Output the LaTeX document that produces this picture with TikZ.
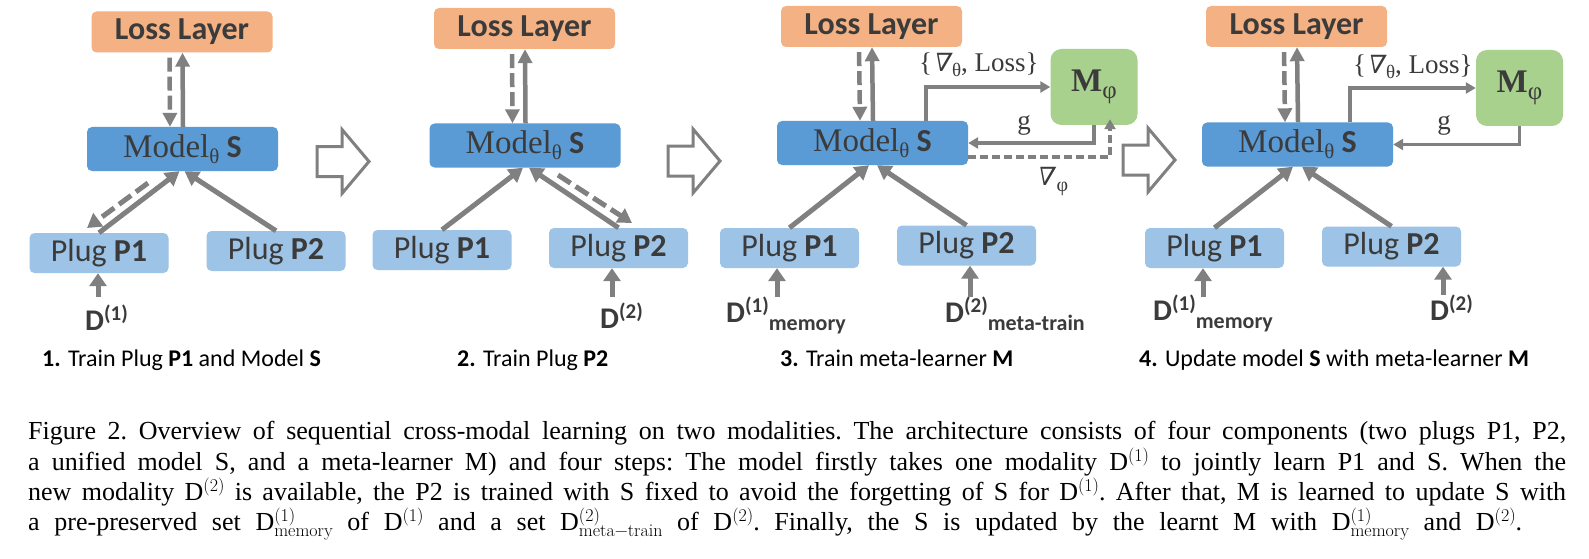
\documentclass[tikz,border=0pt]{standalone}
\usepackage{fontspec}
\setmainfont{Carlito}
\newfontfamily\serif{Liberation Serif}
\newfontfamily\nab[FakeSlant=0.2]{DejaVu Serif}
\newfontfamily\lmr{Latin Modern Roman}
\usetikzlibrary{arrows.meta,calc}
\definecolor{arrgray}{HTML}{808080}
\definecolor{lossc}{HTML}{F4B183}
\definecolor{modelc}{HTML}{5B9BD5}
\definecolor{plugc}{HTML}{9DC3E6}
\definecolor{metac}{HTML}{A9D18E}
\definecolor{txt}{HTML}{3B3B3B}
\newcommand\fs[1]{\fontsize{#1}{#1}\selectfont}
\newcommand\dsup[1]{\raisebox{10pt}{\fs{21}#1}}
\newcommand\dsub[1]{\raisebox{-8pt}{\fs{22}#1}}
\newcommand\csup[1]{\raisebox{9pt}{\lmr\fs{18}#1}}
\newcommand\csupsub[2]{\rlap{\raisebox{9pt}{\lmr\fs{18}#1}}\raisebox{-6pt}{\lmr\fs{18}#2}}
\newcommand\modeltxt{{\serif\fs{33}Model\raisebox{-6pt}{\fs{21}θ}} \textbf{S}}
\newcommand\metatxt{{\serif\bfseries M}\raisebox{-7pt}{\serif\fs{25}φ}}
\newcommand\gradtxt{\{\kern0.5pt{\nab\fs{25}∇}\kern2pt\raisebox{-5pt}{\fs{19}θ}, Loss\}}
\tikzset{
  box/.style={rounded corners=5pt, inner sep=0pt, text=txt, draw=none},
  lossbox/.style={box, fill=lossc, minimum width=181pt, minimum height=41pt, font=\bfseries\fs{32}},
  modelbox/.style={box, fill=modelc, minimum width=191pt, minimum height=44pt, font=\fs{32}},
  plugbox/.style={box, fill=plugc, minimum width=139pt, minimum height=40pt, font=\fs{32}},
  metabox/.style={box, fill=metac, rounded corners=11pt, minimum width=87pt, minimum height=76pt, font=\fs{33}},
  mainarr/.style={draw=arrgray, line width=5pt, -{Triangle[width=16pt,length=14pt]}},
  lossarr/.style={draw=arrgray, line width=4.5pt, -{Triangle[width=14pt,length=14pt]}},
  dasharr/.style={lossarr, dash pattern=on 14pt off 5pt},
  diagdash/.style={mainarr, dash pattern=on 15pt off 6pt},
  darr/.style={draw=arrgray, line width=5pt, -{Triangle[width=17pt,length=13pt]}},
  thinarr/.style={draw=arrgray, line width=3.3pt, -{Triangle[width=11pt,length=10pt]}},
  thindash/.style={thinarr, dash pattern=on 8pt off 4pt},
  blockst/.style={draw=arrgray, line width=3pt, fill=white, line join=miter},
  dlab/.style={inner sep=0pt, text=txt, font=\bfseries\fs{30}},
  serlab/.style={inner sep=0pt, text=txt, font=\serif\fs{27}},
  pcap/.style={inner sep=0pt, text=black, font=\fs{24}},
  figcap/.style={inner sep=0pt, text=black, font=\serif\fs{26}\frenchspacing, anchor=base west},
  blockarr/.pic={\draw[blockst] (0,-15) -- (25,-15) -- (25,-32) -- (52,0) -- (25,32) -- (25,15) -- (0,15) -- cycle;}
}
\begin{document}
\begin{tikzpicture}[x=1pt,y=-1pt]
\useasboundingbox (0,0) rectangle (1589,559);
\fill[white] (0,0) rectangle (1589,559);

% ---------- Panel 1 ----------
\node[lossbox] (L1) at (182,32) {Loss Layer};
\node[modelbox] (M1) at (182.5,149) {\modeltxt};
\node[plugbox] (P1a) at (99,253) {Plug \textbf{P1}};
\node[plugbox] (P2a) at (276,251) {Plug \textbf{P2}};
\draw[dasharr, shorten <=5pt] ([xshift=-12.5pt]L1.south) -- ([xshift=-12.5pt]M1.north);
\draw[lossarr] ([xshift=0.5pt]M1.north) -- ([xshift=0.5pt]L1.south);
\draw[mainarr] (P1a.north) -- ([xshift=-3pt]M1.south);
\draw[mainarr] (P2a.north) -- ([xshift=2pt]M1.south);
\coordinate (ds1) at (148,183);
\coordinate (de1) at (87,228);
\draw[diagdash] (ds1) -- (de1);
\node[dlab, anchor=base west] (D1a) at (85,330) {D\dsup{(1)}};
\coordinate (da1) at (98,297);
\draw[darr] (da1) -- (da1 |- P1a.south);
\node[pcap, anchor=base west] (c1) at (42,366) {\textbf{1.} Train Plug \textbf{P1} and Model \textbf{S}};
\pic at (317,161.5) {blockarr};

% ---------- Panel 2 ----------
\node[lossbox] (L2) at (524.5,28.5) {Loss Layer};
\node[modelbox] (M2) at (525,145.5) {\modeltxt};
\node[plugbox] (P1b) at (442,250) {Plug \textbf{P1}};
\node[plugbox] (P2b) at (618.5,248) {Plug \textbf{P2}};
\draw[dasharr, shorten <=5pt] ([xshift=-12.5pt]L2.south) -- ([xshift=-12.5pt]M2.north);
\draw[lossarr] ([xshift=0.5pt]M2.north) -- ([xshift=0.5pt]L2.south);
\draw[mainarr] (P1b.north) -- ([xshift=-2pt]M2.south);
\draw[mainarr] (P2b.north) -- ([xshift=4pt]M2.south);
\coordinate (ds2) at (558,175);
\coordinate (de2) at (632,223);
\draw[diagdash] (ds2) -- (de2);
\node[dlab, anchor=base west] (D2b) at (600,328) {D\dsup{(2)}};
\coordinate (da2) at (612,297);
\draw[darr] (da2) -- (da2 |- P2b.south);
\node[pcap, anchor=base west] (c2) at (457,366) {\textbf{2.} Train Plug \textbf{P2}};
\pic at (668,161) {blockarr};

% ---------- Panel 3 ----------
\node[lossbox] (L3) at (871.5,26.5) {Loss Layer};
\node[modelbox] (M3) at (872.5,143) {\modeltxt};
\node[plugbox] (P1c) at (789.5,248) {Plug \textbf{P1}};
\node[plugbox] (P2c) at (966.5,245.5) {Plug \textbf{P2}};
\node[metabox] (Mphi3) at (1094,87) {\metatxt};
\draw[dasharr, shorten <=5pt] ([xshift=-12.5pt]L3.south) -- ([xshift=-12.5pt]M3.north);
\draw[lossarr] ([xshift=0.5pt]M3.north) -- ([xshift=0.5pt]L3.south);
\draw[mainarr] (P1c.north) -- ([xshift=-3.5pt]M3.south);
\draw[mainarr] (P2c.north) -- ([xshift=4.5pt]M3.south);
\draw[thinarr] ([xshift=53.5pt]M3.north) |- (Mphi3.west);
\draw[thinarr] (Mphi3.south) |- (M3.east);
\draw[thindash] ([yshift=-14pt]M3.east) -| ([xshift=16pt,yshift=6pt]Mphi3.south);
\node[serlab, anchor=base west] (gl3) at (919,72) {\gradtxt};
\node[serlab, anchor=base] (g3) at (1024,130) {g};
\node[serlab, anchor=base west] (np3) at (1036,185) {{\nab\fs{25}∇}\kern3pt\raisebox{-6pt}{\fs{20}φ}};
\node[dlab, anchor=base west] (D1c) at (726,322) {D\dsup{(1)}\dsub{memory}};
\node[dlab, anchor=base west] (D2c) at (945,322) {D\dsup{(2)}\dsub{meta-train}};
\coordinate (da3) at (777,297);
\coordinate (db3) at (970,297);
\draw[darr] (da3) -- (da3 |- P1c.south);
\draw[darr] (db3) -- (db3 |- P2c.south);
\node[pcap, anchor=base west] (c3) at (780,366) {\textbf{3.} Train meta-learner \textbf{M}};
\pic at (1123,160) {blockarr};

% ---------- Panel 4 ----------
\node[lossbox] (L4) at (1296.5,26.5) {Loss Layer};
\node[modelbox] (M4) at (1297.5,144.5) {\modeltxt};
\node[plugbox] (P1d) at (1214.5,248) {Plug \textbf{P1}};
\node[plugbox] (P2d) at (1391.5,246.5) {Plug \textbf{P2}};
\node[metabox] (Mphi4) at (1519.5,88) {\metatxt};
\draw[dasharr, shorten <=5pt] ([xshift=-12.5pt]L4.south) -- ([xshift=-12.5pt]M4.north);
\draw[lossarr] ([xshift=0.5pt]M4.north) -- ([xshift=0.5pt]L4.south);
\draw[mainarr] (P1d.north) -- ([xshift=-4.5pt]M4.south);
\draw[mainarr] (P2d.north) -- ([xshift=4.5pt]M4.south);
\draw[thinarr] ([xshift=52.5pt]M4.north) |- (Mphi4.west);
\draw[thinarr] (Mphi4.south) |- (M4.east);
\node[serlab, anchor=base west] (gl4) at (1353,74) {\gradtxt};
\node[serlab, anchor=base] (g4) at (1444,129) {g};
\node[dlab, anchor=base west] (D1d) at (1153,320) {D\dsup{(1)}\dsub{memory}};
\node[dlab, anchor=base west] (D2d) at (1430,320) {D\dsup{(2)}};
\coordinate (da4) at (1203,297);
\coordinate (db4) at (1443,295);
\draw[darr] (da4) -- (da4 |- P1d.south);
\draw[darr] (db4) -- (db4 |- P2d.south);
\node[pcap, anchor=base west] (c4) at (1139,366) {\textbf{4.} Update model \textbf{S} with meta-learner \textbf{M}};

% ---------- Figure caption ----------
\node[figcap] (f1) at (28,439) {\makebox[1538pt][s]{Figure 2. Overview of sequential cross-modal learning on two modalities. The architecture consists of four components (two plugs P1, P2,}};
\node[figcap] (f2) at (28,470) {\makebox[1538pt][s]{a unified model S, and a meta-learner M) and four steps: The model firstly takes one modality D\csup{(1)} to jointly learn P1 and S. When the}};
\node[figcap] (f3) at (28,500) {\makebox[1538pt][s]{new modality D\csup{(2)} is available, the P2 is trained with S fixed to avoid the forgetting of S for D\csup{(1)}. After that, M is learned to update S with}};
\node[figcap] (f4) at (28,530) {\makebox[1494pt][s]{a pre-preserved set D\csupsub{(1)}{memory} of D\csup{(1)} and a set D\csupsub{(2)}{meta−train} of D\csup{(2)}. Finally, the S is updated by the learnt M with D\csupsub{(1)}{memory} and D\csup{(2)}.}};
\end{tikzpicture}
\end{document}
